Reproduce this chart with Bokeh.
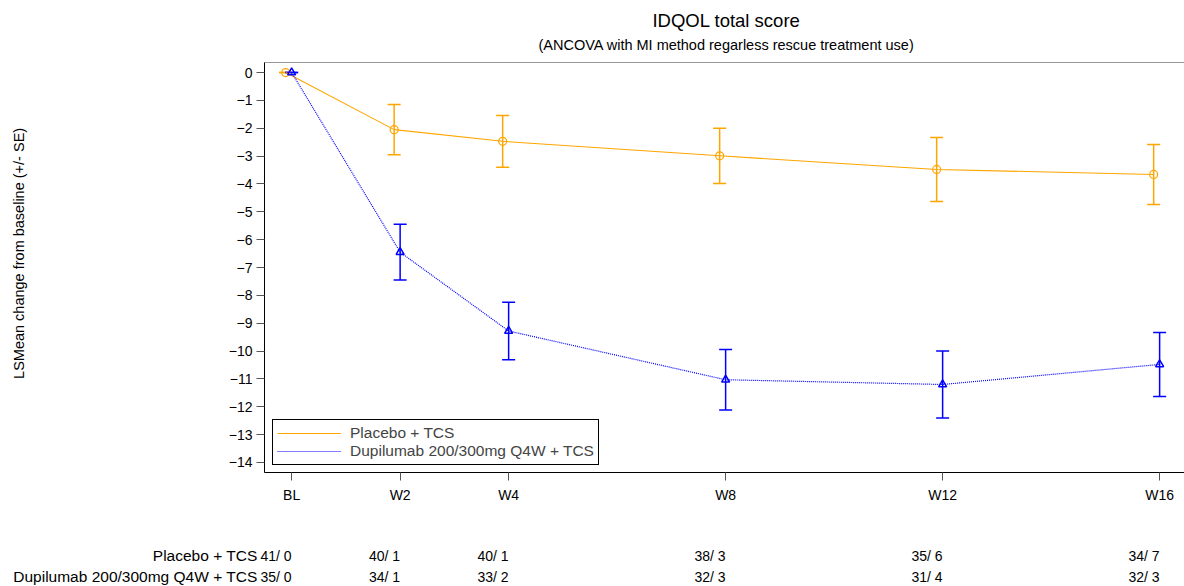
from bokeh.plotting import figure
from bokeh.models import (ColumnDataSource, Whisker, TeeHead, Legend, LegendItem,
                          FixedTicker, LinearAxis, Range1d)
from bokeh.core.properties import value
from bokeh.embed import file_html
from bokeh.resources import INLINE

# ---------------- data ----------------
weeks = [0, 2, 4, 8, 12, 16]
visit_labels = ["BL", "W2", "W4", "W8", "W12", "W16"]
placebo_mean = [0.0, -2.05, -2.47, -2.99, -3.48, -3.66]
placebo_se = [0.0, 0.90, 0.93, 0.99, 1.15, 1.08]
dupi_mean = [0.0, -6.45, -9.28, -11.03, -11.20, -10.48]
dupi_se = [0.0, 1.00, 1.03, 1.09, 1.20, 1.15]
placebo_n = ["41/ 0", "40/ 1", "40/ 1", "38/ 3", "35/ 6", "34/ 7"]
dupi_n = ["35/ 0", "34/ 1", "33/ 2", "32/ 3", "31/ 4", "32/ 3"]
series_names = ["Placebo + TCS", "Dupilumab 200/300mg Q4W + TCS"]
title_text = "IDQOL total score"
subtitle_text = "(ANCOVA with MI method regarless rescue treatment use)"
ylabel_text = "LSMean change from baseline (+/- SE)"

ORANGE = "#FFA500"
BLUE = "#0000FF"
FONT = "Liberation Sans"

# ---------------- layout ----------------
W = 1184
HEAD_H, MAIN_H, TAB_H = 56, 476, 54
FL = 264
XMIN, YMAX, YMIN = -0.5, 0.36, -14.36
PXW = 54.25
XMAX = XMIN + (W - FL) / PXW


def bare(fig):
    fig.outline_line_color = None
    fig.xaxis.visible = False
    fig.yaxis.visible = False
    fig.xgrid.visible = False
    fig.ygrid.visible = False
    return fig


# header with title / subtitle (page-pixel coordinates)
head = bare(figure(width=W, height=HEAD_H, x_range=Range1d(0, W), y_range=Range1d(HEAD_H, 0),
                   output_backend="svg", toolbar_location=None,
                   min_border_left=0, min_border_right=0, min_border_top=0, min_border_bottom=0))
head.text(x=[726], y=[20], text=[title_text], text_font=value(FONT), text_font_size="18.5px",
          text_align="center", text_baseline="middle", text_color="black")
head.text(x=[726], y=[44], text=[subtitle_text], text_font=value(FONT), text_font_size="14.5px",
          text_align="center", text_baseline="middle", text_color="black")

# main plot
p = figure(width=W, height=MAIN_H, x_range=Range1d(XMIN, XMAX), y_range=Range1d(YMIN, YMAX),
           output_backend="svg", toolbar_location=None,
           min_border_left=FL, min_border_right=0, min_border_top=6, min_border_bottom=60)
p.outline_line_color = None
p.xgrid.visible = False
p.ygrid.visible = False

p.xaxis.ticker = FixedTicker(ticks=weeks)
p.xaxis.major_label_overrides = {w: l for w, l in zip(weeks, visit_labels)}
p.yaxis.ticker = FixedTicker(ticks=list(range(0, -15, -1)))
for ax in (p.xaxis[0], p.yaxis[0]):
    ax.axis_line_color = "black"
    ax.axis_line_width = 1
    ax.major_tick_line_color = "#555555"
    ax.major_tick_in = 0
    ax.major_tick_out = 8
    ax.minor_tick_line_color = None
    ax.major_label_text_font = FONT
    ax.major_label_text_font_size = "14px"
    ax.major_label_text_color = "black"
p.xaxis.major_label_standoff = 6
p.yaxis.major_label_standoff = 4
p.yaxis.axis_label = "\u00a0" * 7 + ylabel_text
p.yaxis.axis_label_text_font = FONT
p.yaxis.axis_label_text_font_size = "14.5px"
p.yaxis.axis_label_text_font_style = "normal"
p.yaxis.axis_label_text_color = "black"
p.yaxis.axis_label_standoff = 199

top_axis = LinearAxis(ticker=FixedTicker(ticks=[]), major_label_text_font_size="0px",
                      axis_line_color="#999999", axis_line_width=1,
                      major_tick_line_color=None, minor_tick_line_color=None)
p.add_layout(top_axis, "above")

px = [w - 0.11 for w in weeks]
src_p = ColumnDataSource(dict(x=px, y=placebo_mean,
                              lo=[m - s for m, s in zip(placebo_mean, placebo_se)],
                              hi=[m + s for m, s in zip(placebo_mean, placebo_se)]))
src_d = ColumnDataSource(dict(x=weeks, y=dupi_mean,
                              lo=[m - s for m, s in zip(dupi_mean, dupi_se)],
                              hi=[m + s for m, s in zip(dupi_mean, dupi_se)]))

l1 = p.line("x", "y", source=src_p, line_color=ORANGE, line_width=1.1)
l2 = p.line("x", "y", source=src_d, line_color=BLUE, line_width=1.2, line_dash="1 1")

for src, col in ((src_p, ORANGE), (src_d, BLUE)):
    wk = Whisker(source=src, base="x", upper="hi", lower="lo", line_color=col, line_width=1.5,
                 upper_head=TeeHead(size=13, line_color=col, line_width=1.5),
                 lower_head=TeeHead(size=13, line_color=col, line_width=1.5))
    p.add_layout(wk)

p.scatter("x", "y", source=src_p, marker="circle", size=8, fill_color=None,
          line_color=ORANGE, line_width=1.2)
p.scatter("x", "y", source=src_d, marker="triangle", size=8, fill_color=None,
          line_color=BLUE, line_width=1.5)

legend = Legend(items=[LegendItem(label=series_names[0], renderers=[l1]),
                       LegendItem(label=series_names[1], renderers=[l2])],
                location=(8, 7), orientation="vertical",
                border_line_color="black", border_line_width=1, border_line_alpha=1,
                background_fill_color="white", background_fill_alpha=1,
                padding=4, spacing=0, margin=0, label_height=18, glyph_height=18,
                glyph_width=64, label_standoff=9,
                label_text_font=FONT, label_text_font_size="15.5px")
p.add_layout(legend)

# at-risk table (x in weeks, same pixel scale as the main plot)
tab = bare(figure(width=W, height=TAB_H, x_range=Range1d(XMIN - FL / PXW, XMAX),
                  y_range=Range1d(TAB_H, 0),
                  output_backend="svg", toolbar_location=None,
                  min_border_left=0, min_border_right=0, min_border_top=0, min_border_bottom=0))
row_y = [23, 44]
name_x = XMIN - (FL - 257) / PXW
for name, counts, ry in zip(series_names, (placebo_n, dupi_n), row_y):
    tab.text(x=[name_x], y=[ry], text=[name], text_font=value(FONT), text_font_size="15.5px",
             text_align="right", text_baseline="middle", text_color="black")
    tab.text(x=weeks, y=[ry] * len(weeks), text=counts, text_font=value(FONT),
             text_font_size="14px", text_align="right", text_baseline="middle",
             text_color="black")

open("out.html", "w").write(file_html([head, p, tab], INLINE))
